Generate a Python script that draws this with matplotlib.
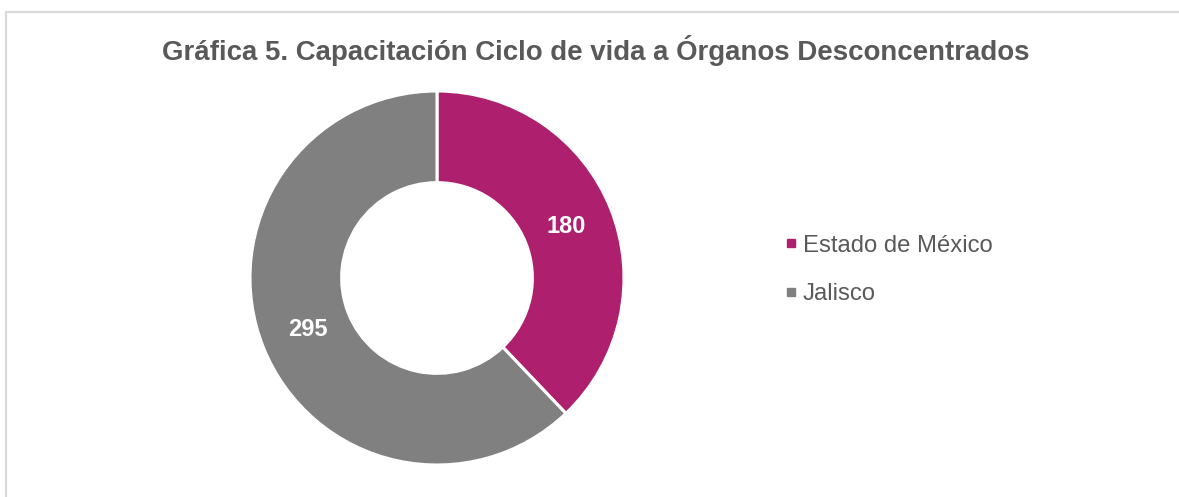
import matplotlib
matplotlib.use("Agg")
import matplotlib.pyplot as plt
from matplotlib.patches import Rectangle
from matplotlib.lines import Line2D
import numpy as np

categories = ["Estado de México", "Jalisco"]
values = [180, 295]
colors = ["#AE1F6E", "#808080"]
title = "Gráfica 5. Capacitación Ciclo de vida a Órganos Desconcentrados"

W, H = 1179, 497
fig = plt.figure(figsize=(W / 100, H / 100), dpi=100)
plt.rcParams['font.family'] = ['Liberation Sans', 'DejaVu Sans']

# frame
fig.patches.append(Rectangle((5.5 / W, -0.05), 1.2, 1 - 11.5 / H + 0.05,
                             transform=fig.transFigure, fill=False,
                             edgecolor="#D9D9D9", linewidth=1.6))

cx, cy, r = 437, 278, 187
ax = fig.add_axes([(cx - r) / W, (H - cy - r) / H, 2 * r / W, 2 * r / H])
wedges, texts = ax.pie(values, colors=colors, startangle=90, counterclock=False,
                       radius=1.0, wedgeprops=dict(width=0.49, edgecolor="white", linewidth=2.2))
ax.set_xlim(-1, 1)
ax.set_ylim(-1, 1)
ax.set_aspect("equal")
ax.axis("off")

for w, v in zip(wedges, values):
    ang = np.deg2rad((w.theta1 + w.theta2) / 2)
    rr = 0.745
    ax.text(rr * np.cos(ang), rr * np.sin(ang), str(v), ha="center", va="center",
            color="white", fontsize=17, fontweight="bold")

fig.text(596 / W, 1 - 51 / H, title, ha="center", va="center",
         color="#595959", fontsize=19.9, fontweight="bold")

handles = [Line2D([], [], marker="s", linestyle="none", markersize=5.5,
                  markerfacecolor=c, markeredgecolor=c) for c in colors]
leg = fig.legend(handles, categories, loc="upper left",
                 bbox_to_anchor=(774 / W, 1 - 225 / H), frameon=False,
                 fontsize=17.2, labelcolor="#595959", handlelength=0.6,
                 handletextpad=0.2, labelspacing=1.12, borderaxespad=0)

fig.savefig("out.png", dpi=100, facecolor="white")
